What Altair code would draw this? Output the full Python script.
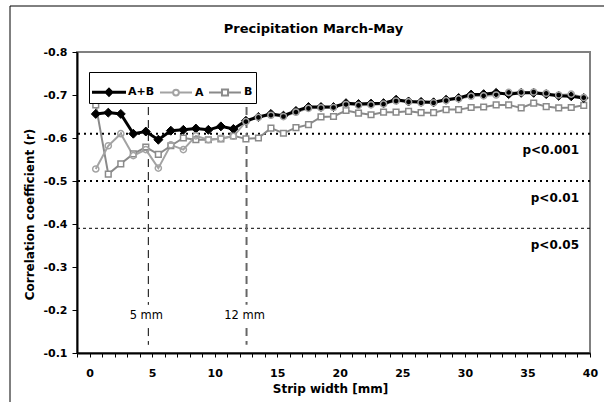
import altair as alt
import pandas as pd

# ---------------- data ----------------
strip_width = [0.5, 1.5, 2.5, 3.5, 4.5, 5.5, 6.5, 7.5, 8.5, 9.5,
               10.5, 11.5, 12.5, 13.5, 14.5, 15.5, 16.5, 17.5, 18.5, 19.5,
               20.5, 21.5, 22.5, 23.5, 24.5, 25.5, 26.5, 27.5, 28.5, 29.5,
               30.5, 31.5, 32.5, 33.5, 34.5, 35.5, 36.5, 37.5, 38.5, 39.5]

r_ab = [-0.656, -0.659, -0.656, -0.610, -0.615, -0.596, -0.617, -0.619, -0.622, -0.619,
        -0.627, -0.621, -0.640, -0.649, -0.656, -0.652, -0.663, -0.672, -0.672, -0.672,
        -0.681, -0.679, -0.680, -0.681, -0.689, -0.685, -0.684, -0.683, -0.689, -0.693,
        -0.701, -0.702, -0.705, -0.702, -0.705, -0.705, -0.702, -0.698, -0.697, -0.693]

r_a = [-0.528, -0.582, -0.610, -0.559, -0.573, -0.530, -0.584, -0.573, -0.605, -0.596,
       -0.599, -0.604, -0.638, -0.648, -0.653, -0.650, -0.660, -0.669, -0.670, -0.671,
       -0.678, -0.676, -0.677, -0.679, -0.686, -0.684, -0.682, -0.682, -0.687, -0.691,
       -0.697, -0.698, -0.700, -0.706, -0.706, -0.707, -0.704, -0.700, -0.702, -0.694]

r_b = [-0.677, -0.516, -0.540, -0.563, -0.579, -0.562, -0.582, -0.600, -0.596, -0.596,
       -0.598, -0.605, -0.598, -0.600, -0.623, -0.611, -0.624, -0.631, -0.649, -0.650,
       -0.664, -0.658, -0.654, -0.660, -0.660, -0.662, -0.659, -0.659, -0.666, -0.666,
       -0.671, -0.672, -0.677, -0.677, -0.670, -0.681, -0.673, -0.670, -0.671, -0.676]

series_names = ["A+B", "A", "B"]

thresholds = [-0.61, -0.50, -0.39]
threshold_labels = ["p<0.001", "p<0.01", "p<0.05"]

marker_widths = [4.7, 12.55]
marker_labels = ["5 mm", "12 mm"]

x_ticks = [-1, 0, 1, 2, 3, 4, 5, 6, 7, 8, 9, 10, 11, 12, 13, 14, 15, 16, 17, 18, 19, 20,
           21, 22, 23, 24, 25, 26, 27, 28, 29, 30, 31, 32, 33, 34, 35, 36, 37, 38, 39, 40]
y_ticks = [-0.8, -0.75, -0.7, -0.65, -0.6, -0.55, -0.5, -0.45, -0.4, -0.35,
           -0.3, -0.25, -0.2, -0.15, -0.1]

# ---------------- tables ----------------
rows = []
for name, vals in zip(series_names, [r_ab, r_a, r_b]):
    for xv, v in zip(strip_width, vals):
        rows.append({"series": name, "strip": xv, "r": v})
df = pd.DataFrame(rows)

thr_df = pd.DataFrame({"r": thresholds, "label": threshold_labels})
mk_df = pd.DataFrame({"strip": marker_widths, "label": marker_labels})

FONT = "DejaVu Sans"
W, H = 513, 301

xscale = alt.Scale(domain=[-1, 40], nice=False, zero=False)
yscale = alt.Scale(domain=[-0.8, -0.1], reverse=True, nice=False, zero=False)

x_axis = alt.Axis(
    values=x_ticks,
    labelExpr="datum.value % 5 == 0 ? '' + datum.value : ''",
    title="Strip width [mm]",
    grid=False, domainColor="black", domainWidth=2,
    tickColor="black", tickWidth=1, tickSize=4,
    labelFont=FONT, labelFontWeight="bold", labelFontSize=11, labelColor="black",
    labelPadding=10, labelOverlap=False, labelFlush=False,
    titleFont=FONT, titleFontSize=12, titleFontWeight="bold", titleColor="black",
    titleX=253, titleY=39, titleBaseline="alphabetic", titleAlign="center",
)
y_axis = alt.Axis(
    values=y_ticks,
    labelExpr="abs(round(datum.value*100)) % 10 == 0 ? '-' + format(abs(datum.value), '.1f') : ''",
    title="Correlation coefficient (r)",
    grid=False, domainColor="black", domainWidth=2,
    tickColor="black", tickWidth=1, tickSize=5,
    labelFont=FONT, labelFontWeight="bold", labelFontSize=11, labelColor="black",
    labelPadding=5, labelOverlap=False, labelFlush=False,
    titleFont=FONT, titleFontSize=12, titleFontWeight="bold", titleColor="black",
    titleX=-48, titleY=162, titleBaseline="middle", titleAlign="center", titleAngle=270,
)

X = alt.X("strip:Q", scale=xscale, axis=x_axis)
Y = alt.Y("r:Q", scale=yscale, axis=y_axis)

# outer frame of the figure
frame = alt.Chart(alt.Data(values=[{"f": 1}])).mark_rect(
    filled=False, stroke="black", strokeWidth=1
).encode(x=alt.value(-67), x2=alt.value(700), y=alt.value(-46), y2=alt.value(600))

# significance thresholds
thr_strong = alt.Chart(thr_df).transform_filter(
    "datum.label != 'p<0.05'"
).mark_rule(color="black", strokeWidth=2, strokeDash=[2, 4]).encode(y=Y)
thr_weak = alt.Chart(thr_df).transform_filter(
    "datum.label == 'p<0.05'"
).mark_rule(color="black", strokeWidth=1, strokeDash=[3, 3]).encode(y=Y)
thr_text = alt.Chart(thr_df).mark_text(
    align="right", baseline="middle", dy=16.5, font=FONT, fontSize=12,
    fontWeight="bold", color="black"
).encode(x=alt.value(502), y=Y, text="label:N")

# vertical marker lines
mk_styles = {"5 mm": ("black", 1), "12 mm": ("#666666", 2)}
mk_layers = []
for lab, (col, sw) in mk_styles.items():
    base = alt.Chart(mk_df).transform_filter(f"datum.label == '{lab}'")
    mk_layers.append(base.mark_rule(color=col, strokeWidth=sw, strokeDash=[8, 5]).encode(
        x=X, y=alt.datum(-0.672), y2=alt.datum(-0.212)))
    mk_layers.append(base.mark_rule(color=col, strokeWidth=sw, strokeDash=[8, 5]).encode(
        x=X, y=alt.datum(-0.158), y2=alt.datum(-0.119)))
mk_text = alt.Chart(mk_df).mark_text(
    align="center", baseline="middle", dx=-2, font=FONT, fontSize=11.5, color="black"
).encode(x=X, y=alt.datum(-0.187), text="label:N")

# series
col_ab, col_a, col_b = "black", "#a3a3a3", "#8a8a8a"
def sel(name):
    return alt.Chart(df).transform_filter(f"datum.series == '{name}'")

line_b = sel("B").mark_line(color=col_b, strokeWidth=2).encode(x=X, y=Y)
line_a = sel("A").mark_line(color=col_a, strokeWidth=2).encode(x=X, y=Y)
line_ab = sel("A+B").mark_line(color=col_ab, strokeWidth=3).encode(x=X, y=Y)
pt_b = sel("B").mark_point(shape="square", size=32, filled=False, fill="white",
                           stroke=col_b, strokeWidth=1.5, opacity=1).encode(x=X, y=Y)
pt_ab = sel("A+B").mark_point(shape="diamond", size=80, filled=True, fill="black",
                              stroke="black", strokeWidth=1, opacity=1).encode(x=X, y=Y)
pt_a = sel("A").mark_point(shape="circle", size=38, filled=False,
                           stroke=col_a, strokeWidth=1.5, opacity=1).encode(x=X, y=Y)

# legend (line + marker symbols)
leg_paths = [
    "M-1,-0.03L1,-0.03L1,0.03L-1,0.03Z M0,-0.22L0.22,0L0,0.22L-0.22,0Z",
    "M-1,0L-0.18,0M0.18,0L1,0 M0.18,0A0.18,0.18,0,1,1,-0.18,0A0.18,0.18,0,1,1,0.18,0Z",
    "M-1,0L-0.19,0M0.19,0L1,0 M-0.19,-0.19L0.19,-0.19L0.19,0.19L-0.19,0.19Z",
]
leg = alt.Legend(
    orient="none", legendX=12, legendY=20, direction="horizontal", title=None,
    strokeColor="black", fillColor="white", padding=3,
    labelFont=FONT, labelFontWeight="bold", labelFontSize=11, labelColor="black",
    symbolSize=1024, symbolStrokeWidth=2, labelOffset=2, columnPadding=1,
)
legend_layer = alt.Chart(df).transform_filter("false").mark_point(
    filled=True, opacity=1, strokeWidth=2
).encode(
    x=X, y=Y,
    fill=alt.Fill("series:N", scale=alt.Scale(domain=series_names, range=["black", "white", "white"]), legend=leg),
    stroke=alt.Stroke("series:N", scale=alt.Scale(domain=series_names, range=[col_ab, col_a, col_b]), legend=leg),
    shape=alt.Shape("series:N", scale=alt.Scale(domain=series_names, range=leg_paths), legend=leg),
)

chart = alt.layer(
    frame, thr_strong, thr_weak, thr_text, *mk_layers, mk_text,
    line_b, line_a, line_ab, pt_b, pt_ab, pt_a, legend_layer,
).properties(
    width=W, height=H,
    title=alt.TitleParams("Precipitation March-May", font=FONT, fontSize=13,
                          fontWeight="bold", color="black", anchor="middle", dx=-20, dy=34),
    autosize=alt.AutoSizeParams(type="none"),
    padding={"left": 77, "top": 52, "right": 14, "bottom": 49},
    background="white",
).configure_view(stroke="#808080", strokeWidth=2).configure_axis(labelOverlap=False)

chart.save("out.html", embed_options={"renderer": "svg", "actions": False})
